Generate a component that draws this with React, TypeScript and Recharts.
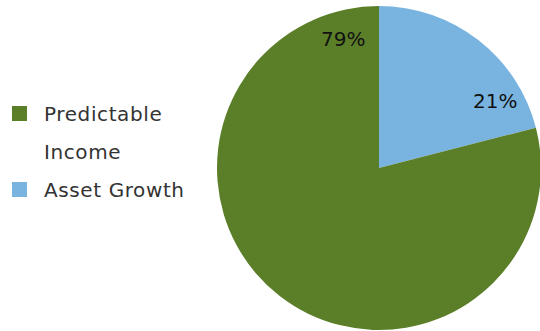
import React from "react";
import { PieChart, Pie, Cell, Legend } from "recharts";

const categories = ["Asset Growth", "Predictable Income"];
const values = [21, 79];
const colors = ["#79B4E0", "#5B7E29"];
const legendOrder = ["Predictable Income", "Asset Growth"];

const data = categories.map((name, i) => ({ name, value: values[i] }));

const FONT = "'DejaVu Sans', sans-serif";
const RAD = Math.PI / 180;

const renderLabel = (props: any) => {
  const { cx, cy, endAngle, percent } = props;
  const a = (endAngle + 15.5) * RAD;
  const r = 134;
  const x = cx + r * Math.cos(a);
  const y = cy - r * Math.sin(a);
  return (
    <text
      x={x}
      y={y}
      fill="#111"
      fontSize={20}
      fontFamily={FONT}
      textAnchor="middle"
      dominantBaseline="central"
    >
      {`${Math.round(percent * 100)}%`}
    </text>
  );
};

const LegendContent = () => (
  <div style={{ fontFamily: FONT, fontSize: 20, color: "#333", letterSpacing: 0.6 }}>
    {legendOrder.map((name) => {
      const idx = categories.indexOf(name);
      return (
        <div
          key={name}
          style={{ display: "flex", alignItems: "flex-start", marginBottom: 0 }}
        >
          <div
            style={{
              width: 15,
              height: 15,
              background: colors[idx],
              marginTop: 11,
              marginRight: 17,
              flexShrink: 0,
            }}
          />
          <div style={{ width: 165, lineHeight: "38px" }}>{name}</div>
        </div>
      );
    })}
  </div>
);

export default function App() {
  return (
    <div>
      <style>{`body{margin:0}`}</style>
      <PieChart width={540} height={331} margin={{ top: 0, right: 0, bottom: 0, left: 0 }}>
        <Pie
          data={data}
          dataKey="value"
          nameKey="name"
          cx={379}
          cy={168}
          outerRadius={162}
          startAngle={90}
          endAngle={-270}
          stroke="none"
          label={renderLabel}
          labelLine={false}
          isAnimationActive={false}
        >
          {data.map((d, i) => (
            <Cell key={d.name} fill={colors[i]} />
          ))}
        </Pie>
        <Legend
          content={<LegendContent />}
          wrapperStyle={{ position: "absolute", left: 12, top: 95, width: 200 }}
        />
      </PieChart>
    </div>
  );
}
